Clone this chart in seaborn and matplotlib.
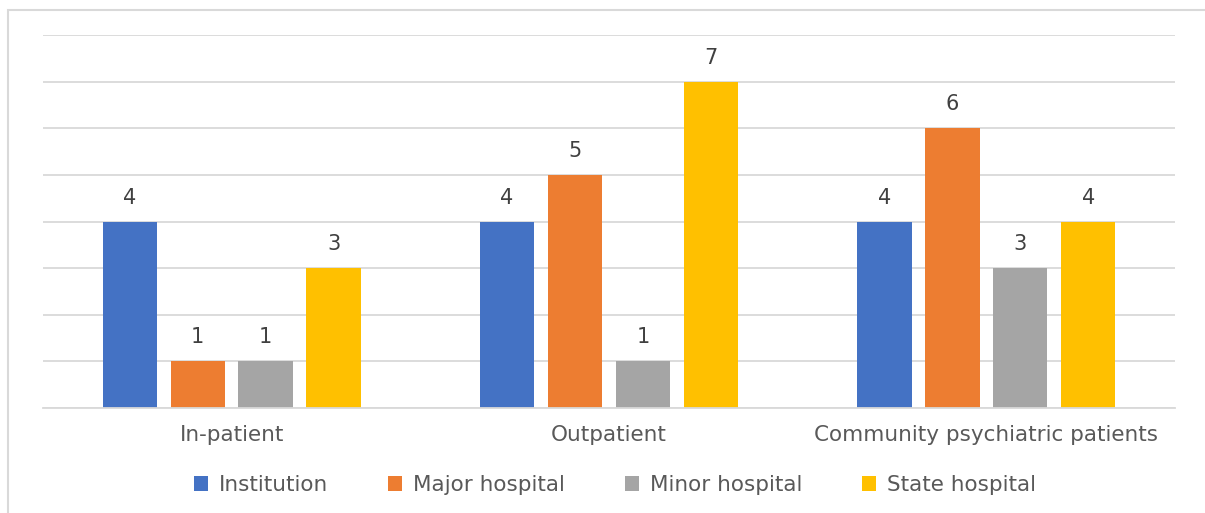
import matplotlib
matplotlib.use("Agg")
import matplotlib.pyplot as plt
import seaborn as sns
import pandas as pd
from matplotlib.patches import Rectangle

categories = ["In-patient", "Outpatient", "Community psychiatric patients"]
series = ["Institution", "Major hospital", "Minor hospital", "State hospital"]
institution = [4, 4, 4]
major_hospital = [1, 5, 6]
minor_hospital = [1, 1, 3]
state_hospital = [3, 7, 4]
colors = ["#4472C4", "#ED7D31", "#A5A5A5", "#FFC000"]

rows = []
for s, vals in zip(series, [institution, major_hospital, minor_hospital, state_hospital]):
    for c, v in zip(categories, vals):
        rows.append({"category": c, "series": s, "value": v})
df = pd.DataFrame(rows)

sns.set_theme(style="white")
plt.rcParams["font.family"] = ["DejaVu Sans"]

fig = plt.figure(figsize=(12.05, 5.13), dpi=100)
ax = fig.add_axes([43 / 1205, 1 - 408 / 513, (1175 - 43) / 1205, (408 - 35) / 513])

sns.barplot(data=df, x="category", y="value", hue="series", order=categories,
            hue_order=series, palette=colors, width=0.72, gap=0.2,
            saturation=1, ax=ax, legend=True, linewidth=0)

ax.set_xlim(-0.5, 2.5)
ax.set_ylim(0, 8)
ax.set_yticks(range(0, 9))
ax.yaxis.grid(True, color="#D9D9D9", linewidth=1.3)
ax.set_axisbelow(True)
ax.set_yticklabels([])
ax.tick_params(axis="y", length=0)
ax.tick_params(axis="x", length=0, pad=12, labelsize=15.5, labelcolor="#595959")
ax.set_xlabel("")
ax.set_ylabel("")
for sp in ["top", "right", "left"]:
    ax.spines[sp].set_visible(False)
ax.spines["bottom"].set_color("#D9D9D9")
ax.spines["bottom"].set_linewidth(1.3)

for cont in ax.containers:
    ax.bar_label(cont, padding=10, fontsize=15, color="#404040")

leg = ax.legend(loc="center", bbox_to_anchor=(615 / 1205, 1 - 485 / 513),
                bbox_transform=fig.transFigure, ncol=4, frameon=False,
                fontsize=15.5, handlelength=0.65, handleheight=0.65,
                handletextpad=0.5, columnspacing=2.8)
for t in leg.get_texts():
    t.set_color("#595959")

fig.patches.append(Rectangle((8 / 1205, -0.1), 1.2, 1 - 10 / 513 + 0.1,
                             transform=fig.transFigure, fill=False,
                             edgecolor="#D9D9D9", linewidth=1.5))

fig.savefig("out.png", dpi=100)
